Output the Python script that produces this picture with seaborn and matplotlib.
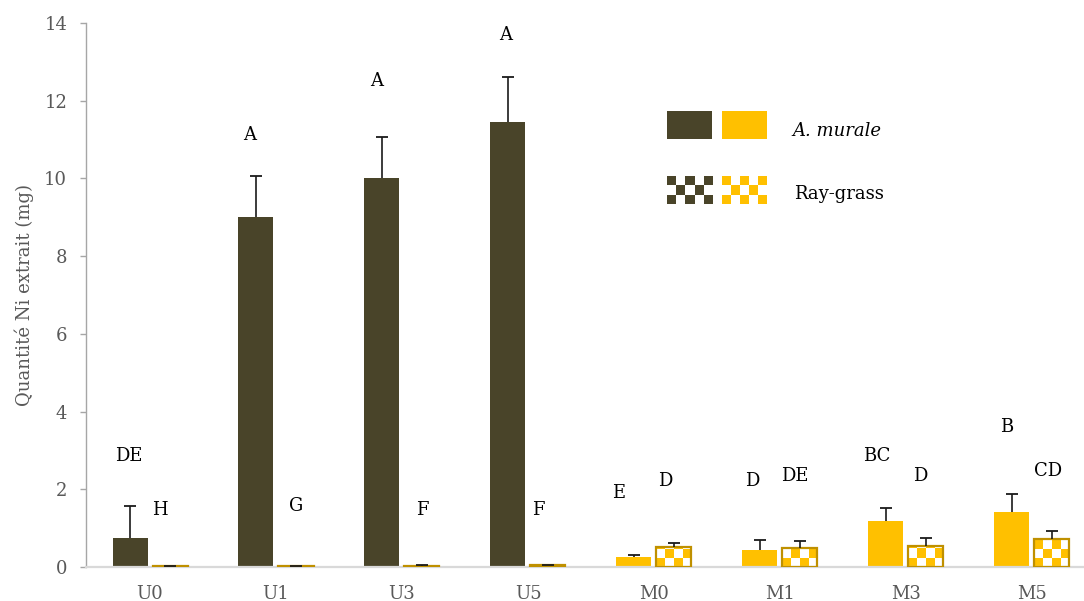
import numpy as np
import pandas as pd
import matplotlib
matplotlib.use("Agg")
import matplotlib.pyplot as plt
from matplotlib.colors import ListedColormap
import seaborn as sns

# data
traitements = ["U0", "U1", "U3", "U5", "M0", "M1", "M3", "M5"]
especes = ["A. murale", "Ray-grass"]

ni_murale = [0.75, 9.02, 10.02, 11.45, 0.25, 0.43, 1.19, 1.41]
err_murale = [0.83, 1.05, 1.04, 1.17, 0.07, 0.26, 0.32, 0.47]
ni_raygrass = [0.02, 0.02, 0.03, 0.04, 0.51, 0.48, 0.55, 0.71]
err_raygrass = [0.0, 0.0, 0.01, 0.01, 0.11, 0.20, 0.19, 0.21]

lettres_murale = ["DE", "A", "A", "A", "E", "D", "BC", "B"]
lettres_raygrass = ["H", "G", "F", "F", "D", "DE", "D", "CD"]
y_lettres_murale = [2.86, 11.12, 12.5, 13.69, 1.9, 2.22, 2.86, 3.6]
y_lettres_raygrass = [1.47, 1.57, 1.47, 1.47, 2.22, 2.35, 2.35, 2.48]
dx_lettres_murale = [-0.17, -0.21, -0.2, -0.18, -0.28, -0.22, -0.23, -0.2]
dx_lettres_raygrass = [0.08, 0.16, 0.16, 0.08, 0.09, 0.12, 0.11, 0.13]

DARK = "#494429"
YELLOW = "#FFC000"
GOLD = "#BF9000"
GREY_TXT = "#595959"

sns.set_theme(style="white")
plt.rcParams["font.family"] = ["DejaVu Serif"]

W, H = 1084, 601
fig = plt.figure(figsize=(W / 100, H / 100), dpi=100)
ax = fig.add_axes([86 / W, 1 - 567 / H, (1084 - 86) / W, (567 - 23) / H])

df = pd.DataFrame({
    "traitement": traitements * 2,
    "ni": ni_murale + ni_raygrass,
    "espece": [especes[0]] * len(traitements) + [especes[1]] * len(traitements),
})

sns.barplot(data=df, x="traitement", y="ni", hue="espece", order=traitements,
            hue_order=especes, width=0.635, gap=0.125, errorbar=None,
            legend=False, saturation=1, ax=ax)

XLIM = (-0.508, 7.413)
ax.set_xlim(*XLIM)
ax.set_ylim(0, 14)

bars_m = sorted(ax.containers[0], key=lambda b: b.get_x())
bars_r = sorted(ax.containers[1], key=lambda b: b.get_x())

def couleur(t):
    return DARK if t.startswith("U") else YELLOW

for t, bar in zip(traitements, bars_m):
    bar.set_facecolor(couleur(t))
    bar.set_edgecolor("none")
    bar.set_linewidth(0)
    bar.set_zorder(2)

# checker pattern for ray-grass bars, clipped to each bar
cell_px = 9
ppu_y = ax.transData.transform((0, 1))[1] - ax.transData.transform((0, 0))[1]
for t, bar in zip(traitements, bars_r):
    x0, y0 = bar.get_x(), bar.get_y()
    w, h = bar.get_width(), bar.get_height()
    (px0, py0), (px1, py1) = ax.transData.transform([(x0, y0), (x0 + w, y0 + h)])
    nx = max(1, int(round((px1 - px0) / cell_px)))
    ny = max(1, int(np.ceil((py1 - py0) / cell_px)))
    damier = np.indices((ny, nx)).sum(axis=0) % 2
    im = ax.imshow(damier, cmap=ListedColormap([couleur(t), "white"]), vmin=0, vmax=1,
                   extent=(x0, x0 + w, y0, y0 + ny * cell_px / ppu_y),
                   origin="lower", interpolation="nearest", aspect="auto", zorder=2.5)
    im.set_clip_path(bar)
    bar.set_facecolor("none")
    bar.set_edgecolor(GOLD)
    bar.set_linewidth(1.6)
    bar.set_zorder(3)

ax.set_xlim(*XLIM)
ax.set_ylim(0, 14)

# upper error bars only (stem + top cap)
for bars, vals, errs in [(bars_m, ni_murale, err_murale), (bars_r, ni_raygrass, err_raygrass)]:
    cx = np.array([b.get_x() + b.get_width() / 2 for b in bars])
    vals = np.array(vals)
    tops = vals + np.array(errs)
    ax.vlines(cx, vals, tops, colors="#1a1a1a", linewidth=1.2, zorder=4)
    ax.plot(cx, tops, ls="none", marker="_", markersize=8.5, mew=1.3,
            color="#1a1a1a", zorder=4)

# significance letters
for i in range(len(traitements)):
    ax.text(i + dx_lettres_murale[i], y_lettres_murale[i], lettres_murale[i],
            ha="center", va="center", fontsize=13, color="black")
    ax.text(i + dx_lettres_raygrass[i], y_lettres_raygrass[i], lettres_raygrass[i],
            ha="center", va="center", fontsize=13, color="black")

# axes styling
ax.set_yticks(np.arange(0, 15, 2))
ax.set_xlabel("")
ax.set_ylabel("Quantité Ni extrait (mg)", fontsize=13, color=GREY_TXT)
ax.yaxis.set_label_coords(-0.052, 0.5)
for side in ["top", "right"]:
    ax.spines[side].set_visible(False)
ax.spines["left"].set_color("#A6A6A6")
ax.spines["left"].set_linewidth(1.0)
ax.spines["bottom"].set_color("#D9D9D9")
ax.spines["bottom"].set_linewidth(1.6)
ax.tick_params(axis="y", left=True, length=4.5, width=1.0, color="#A6A6A6",
               labelcolor=GREY_TXT, labelsize=13, pad=9)
ax.tick_params(axis="x", bottom=False, length=0, labelcolor=GREY_TXT,
               labelsize=13, pad=13)
ax.grid(False)

# hand-made legend (solid / checker swatches)
def swatch(x0, y0, x1, y1, col, damier=False):
    la = fig.add_axes([x0 / W, 1 - y1 / H, (x1 - x0) / W, (y1 - y0) / H])
    if damier:
        motif = np.indices((3, 5)).sum(axis=0) % 2
        la.imshow(motif, cmap=ListedColormap([col, "white"]), vmin=0, vmax=1,
                  interpolation="nearest", aspect="auto")
    else:
        la.set_facecolor(col)
    la.set_xticks([])
    la.set_yticks([])
    for s in la.spines.values():
        s.set_visible(False)

swatch(667, 111, 712, 139, DARK)
swatch(722, 111, 767, 139, YELLOW)
swatch(667, 176, 712, 204, DARK, damier=True)
swatch(722, 176, 767, 204, YELLOW, damier=True)
fig.text(792 / W, 1 - 131 / H, "A. murale", fontsize=13, style="italic",
         va="center", ha="left", color="black")
fig.text(794 / W, 1 - 194 / H, "Ray-grass", fontsize=13,
         va="center", ha="left", color="black")

fig.savefig("out.png", dpi=100)
